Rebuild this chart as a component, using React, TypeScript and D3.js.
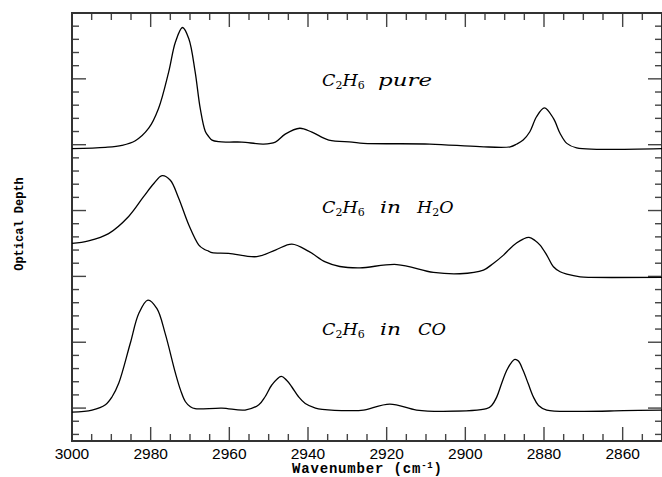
import React from 'react';
import * as d3 from 'd3';

// Wavenumber (cm^-1) and optical depth (offset) for each spectrum
const wnPure = [3000, 2991.5, 2987.3, 2983.9, 2980.5, 2978.0, 2975.4, 2973.7, 2971.9, 2970.3, 2968.7, 2967.4, 2966.1, 2965.2, 2964.4, 2962.7, 2960.2, 2956.8, 2951.3, 2948.3, 2945.8, 2942.1, 2939.0, 2934.7, 2928.8, 2925.9, 2909.0, 2896.3, 2888.6, 2886.9, 2885.3, 2883.6, 2881.9, 2879.9, 2877.6, 2875.9, 2874.2, 2871.7, 2866.6, 2850];
const odPure = [0.394, 0.396, 0.399, 0.406, 0.425, 0.455, 0.511, 0.556, 0.578, 0.561, 0.511, 0.455, 0.420, 0.412, 0.407, 0.4045, 0.404, 0.404, 0.401, 0.404, 0.416, 0.425, 0.419, 0.407, 0.404, 0.402, 0.401, 0.397, 0.3968, 0.401, 0.407, 0.4196, 0.4424, 0.456, 0.440, 0.417, 0.402, 0.395, 0.393, 0.394];

const wnH2O = [3000, 2995.8, 2990.7, 2985.6, 2981.8, 2979.2, 2977.1, 2975.0, 2972.9, 2970.3, 2967.8, 2966.5, 2965.3, 2964.4, 2960.2, 2953.0, 2948.3, 2944.1, 2939.8, 2935.6, 2931.9, 2926.8, 2917.4, 2908.1, 2901.4, 2895.4, 2892.9, 2890.3, 2888.6, 2886.9, 2885.3, 2883.8, 2882.3, 2881.0, 2879.3, 2877.6, 2875.9, 2874.2, 2870.8, 2868.3, 2850];
const odH2O = [0.250, 0.254, 0.265, 0.291, 0.321, 0.341, 0.353, 0.346, 0.319, 0.278, 0.248, 0.2415, 0.2384, 0.236, 0.235, 0.230, 0.240, 0.249, 0.238, 0.222, 0.215, 0.213, 0.218, 0.206, 0.204, 0.2096, 0.2197, 0.2323, 0.2425, 0.2510, 0.2567, 0.2592, 0.2546, 0.2475, 0.2323, 0.2146, 0.2070, 0.2035, 0.1994, 0.1985, 0.1985];

const wnCO = [3000, 2994.9, 2991.5, 2989.8, 2988.1, 2985.2, 2983.0, 2980.7, 2978.4, 2976.3, 2973.7, 2972.4, 2971.2, 2969.9, 2968.7, 2961.9, 2956.0, 2952.5, 2950.9, 2949.2, 2946.8, 2945.5, 2944.1, 2942.4, 2940.7, 2938.1, 2936.4, 2928.8, 2925.9, 2919.2, 2912.4, 2905.6, 2894.6, 2893.3, 2892.0, 2890.8, 2889.5, 2888.2, 2887.4, 2886.5, 2885.3, 2884.0, 2882.7, 2881.4, 2879.3, 2870.8, 2859.8, 2850];
const odCO = [-0.006, -0.003, 0.005, 0.0172, 0.038, 0.098, 0.144, 0.164, 0.151, 0.113, 0.053, 0.0273, 0.010, 0.002, -0.001, 0.000, -0.003, 0.005, 0.0172, 0.035, 0.048, 0.0425, 0.032, 0.0172, 0.007, 0.000, -0.002, -0.004, -0.003, 0.006, -0.003, -0.005, -0.001, 0.004, 0.017, 0.0369, 0.057, 0.0699, 0.074, 0.0714, 0.057, 0.0369, 0.017, 0.004, -0.003, -0.005, -0.004, -0.003];

const xMajorTicks = [3000, 2980, 2960, 2940, 2920, 2900, 2880, 2860];
const xTickLabels = ['3000', '2980', '2960', '2940', '2920', '2900', '2880', '2860'];

const W = 662;
const H = 477;
const LEFT = 72;
const RIGHT = 662;
const TOP = 13;
const BOTTOM = 441;

export default function App() {
  const x = d3.scaleLinear().domain([3000, 2850]).range([LEFT, RIGHT]);
  const y = d3.scaleLinear().domain([-0.05, 0.6]).range([BOTTOM, TOP]);

  const line = d3
    .line<[number, number]>()
    .x((d) => x(d[0]))
    .y((d) => y(d[1]))
    .curve(d3.curveCatmullRom.alpha(0.5));

  const series = [
    d3.zip(wnPure, odPure) as [number, number][],
    d3.zip(wnH2O, odH2O) as [number, number][],
    d3.zip(wnCO, odCO) as [number, number][],
  ];

  const xMinor = d3.range(0, 31).map((i) => 3000 - i * 5);
  const yMinor = d3.range(-2, 31).map((i) => i * 0.02);

  const majLen = 14;
  const minLen = 7;
  const tickColor = '#444';

  const serif = "'DejaVu Serif', 'Liberation Serif', serif";
  const mono = "'Liberation Mono', 'Courier New', monospace";
  const sans = "'Liberation Sans', Arial, sans-serif";
  const fs = 17.5;

  const Sub = ({ t }: { t: string }) => (
    <tspan fontStyle="normal" fontSize={11} dy={3}>
      {t}
    </tspan>
  );

  const formula = (yb: number) => (
    <text x={322} y={yb} fontFamily={serif} fontStyle="italic" fontSize={fs} fill="#000">
      C<Sub t="2" />
      <tspan dy={-3}>H</tspan>
      <Sub t="6" />
    </text>
  );

  return (
    <svg width={W} height={H} style={{ position: 'absolute', left: 0, top: 0 }} xmlns="http://www.w3.org/2000/svg">
      <rect x={0} y={0} width={W} height={H} fill="#fff" />
      {/* ticks */}
      <g stroke={tickColor} strokeWidth={1.4}>
        {xMinor.map((v, i) => {
          const len = i % 4 === 0 ? majLen : minLen;
          const px = x(v);
          return (
            <g key={'xt' + i}>
              <line x1={px} x2={px} y1={BOTTOM} y2={BOTTOM - len} />
              <line x1={px} x2={px} y1={TOP} y2={TOP + len} />
            </g>
          );
        })}
        {yMinor.map((v, i) => {
          const len = (i - 2) % 5 === 0 ? majLen : minLen;
          const py = y(v);
          return (
            <g key={'yt' + i}>
              <line x1={LEFT} x2={LEFT + len} y1={py} y2={py} />
              <line x1={RIGHT} x2={RIGHT - len} y1={py} y2={py} />
            </g>
          );
        })}
      </g>
      {/* frame */}
      <rect x={LEFT} y={TOP} width={RIGHT - LEFT} height={BOTTOM - TOP} fill="none" stroke="#333" strokeWidth={2} />
      {/* spectra */}
      {series.map((s, i) => (
        <path key={'s' + i} d={line(s) || ''} fill="none" stroke="#000" strokeWidth={1.3} />
      ))}
      {/* x tick labels */}
      {xMajorTicks.map((v, i) => (
        <text key={'xl' + i} x={x(v)} y={458.5} textAnchor="middle" fontFamily={sans} fontSize={15.5} fill="#000">
          {xTickLabels[i]}
        </text>
      ))}
      {/* axis titles */}
      <text
        x={292}
        y={472.5}
        textLength={150}
        lengthAdjust="spacing"
        fontFamily={mono}
        fontWeight="bold"
        fontSize={14}
        fill="#000"
      >
        Wavenumber (cm
        <tspan fontSize={9} dy={-5}>-1</tspan>
        <tspan dy={5}>)</tspan>
      </text>
      <text
        transform={`translate(23, ${(TOP + BOTTOM) / 2 - 3}) rotate(-90)`}
        textAnchor="middle"
        fontFamily={mono}
        fontWeight="bold"
        fontSize={12}
        fill="#000"
      >
        Optical Depth
      </text>
      {/* annotations */}
      {formula(86)}
      <text x={378} y={86} fontFamily={serif} fontStyle="italic" fontSize={fs} textLength={54} lengthAdjust="spacingAndGlyphs">
        pure
      </text>
      {formula(213)}
      <text x={380} y={213} fontFamily={serif} fontStyle="italic" fontSize={fs} textLength={21} lengthAdjust="spacingAndGlyphs">
        in
      </text>
      <text x={417} y={213} fontFamily={serif} fontStyle="italic" fontSize={fs}>
        H<Sub t="2" />
        <tspan dy={-3}>O</tspan>
      </text>
      {formula(335)}
      <text x={380} y={335} fontFamily={serif} fontStyle="italic" fontSize={fs} textLength={21} lengthAdjust="spacingAndGlyphs">
        in
      </text>
      <text x={418} y={335} fontFamily={serif} fontStyle="italic" fontSize={fs} textLength={28} lengthAdjust="spacingAndGlyphs">
        CO
      </text>
    </svg>
  );
}
